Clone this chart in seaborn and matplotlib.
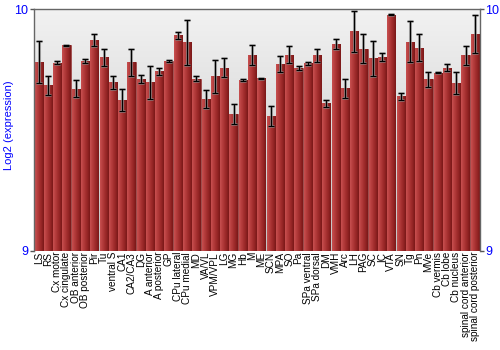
import numpy as np
import matplotlib
matplotlib.use("Agg")
import matplotlib.pyplot as plt
import seaborn as sns
from matplotlib.colors import LinearSegmentedColormap

regions = ["LS", "RS", "Cx motor", "Cx cingulate", "OB anterior", "OB posterior", "Pir", "Tu",
           "ventral S", "CA1", "CA2/CA3", "DG", "A anterior", "A posterior", "GP", "CPu lateral",
           "CPu medial", "MD", "VA/VL", "VPM/VPL", "LG", "MG", "Hb", "M", "ME", "SCN", "MPA", "SO",
           "Pa", "SPa ventral", "SPa dorsal", "DM", "VMH", "Arc", "LH", "PAG", "SC", "IC", "VTA",
           "SN", "Tg", "Pn", "MVe", "Cb vermis", "Cb lobe", "Cb nucleus", "spinal cord anterior",
           "spinal cord posterior"]
values = [9.781, 9.686, 9.780, 9.852, 9.671, 9.787, 9.874, 9.801,
          9.698, 9.624, 9.781, 9.712, 9.698, 9.744, 9.785, 9.892,
          9.864, 9.712, 9.629, 9.722, 9.759, 9.568, 9.707, 9.810,
          9.714, 9.557, 9.773, 9.813, 9.758, 9.776, 9.810, 9.610,
          9.856, 9.673, 9.909, 9.838, 9.797, 9.802, 9.979, 9.640,
          9.867, 9.842, 9.711, 9.737, 9.759, 9.695, 9.810, 9.898]
errors = [0.088, 0.039, 0.006, 0.002, 0.035, 0.008, 0.026, 0.035,
          0.026, 0.045, 0.055, 0.017, 0.069, 0.014, 0.004, 0.015,
          0.093, 0.010, 0.037, 0.067, 0.041, 0.041, 0.005, 0.041,
          0.003, 0.041, 0.033, 0.037, 0.008, 0.007, 0.026, 0.016,
          0.022, 0.039, 0.084, 0.062, 0.072, 0.017, 0.004, 0.015,
          0.084, 0.057, 0.031, 0.002, 0.014, 0.047, 0.039, 0.080]
y_ticks = [9, 10]

sns.set_style("white")
plt.rcParams['font.family'] = ['Liberation Sans', 'DejaVu Sans']

fig = plt.figure(figsize=(5, 3.5), dpi=100)
ax = fig.add_axes([0.068, 0.284, 0.891, 0.689])

sns.barplot(x=regions, y=values, color="#b03535", width=0.88, ax=ax,
            edgecolor="#8a2020", linewidth=0.4, zorder=2)
ax.set_ylim(9, 10)
xlim = ax.get_xlim()

# background gradient
bg = LinearSegmentedColormap.from_list("bg", ["#c4c4c4", "#f2f2f2"])
ax.imshow(np.linspace(0, 1, 256).reshape(-1, 1), cmap=bg, origin="lower",
          extent=[xlim[0], xlim[1], 9, 10], aspect="auto", zorder=0)

# bar gradients
barcm = LinearSegmentedColormap.from_list("bar", ["#c85050", "#b23a3a", "#9a2828", "#7a1818"])
grad = np.linspace(0, 1, 64).reshape(1, -1)
for p in ax.patches:
    x0, w, h = p.get_x(), p.get_width(), p.get_height()
    im = ax.imshow(grad, cmap=barcm, extent=[x0, x0 + w, 9, h], aspect="auto", zorder=2.5)
    im.set_clip_path(p)
ax.set_xlim(xlim)

xs = [p.get_x() + p.get_width() / 2 for p in ax.patches]
ax.errorbar(xs, values, yerr=errors, fmt="none", ecolor="#999999", elinewidth=2.2,
            capsize=2.2, capthick=2.0, zorder=3, alpha=0.7)
ax.errorbar(xs, values, yerr=errors, fmt="none", ecolor="black", elinewidth=0.9,
            capsize=2, capthick=0.9, zorder=4)

ax.set_yticks(y_ticks)
ax.set_yticklabels([str(t) for t in y_ticks])
ax.tick_params(axis="y", colors="#0000ff", labelsize=9, left=True, right=True,
               labelright=True, length=3, width=1, pad=1)
ax.tick_params(axis="y", which="both", color="#555555")
ax.tick_params(axis="x", labelsize=7.2, rotation=90, length=0, pad=1)
for lbl in ax.get_xticklabels():
    lbl.set_color("black")
ax.set_ylabel("Log2 (expression)", color="#0000ff", fontsize=8)
ax.yaxis.set_label_coords(-0.045, 0.52)
ax.set_xlabel("")
for s in ax.spines.values():
    s.set_color("#666666")
    s.set_linewidth(1.0)
ax.spines["bottom"].set_visible(False)

fig.savefig("out.png", dpi=100)
